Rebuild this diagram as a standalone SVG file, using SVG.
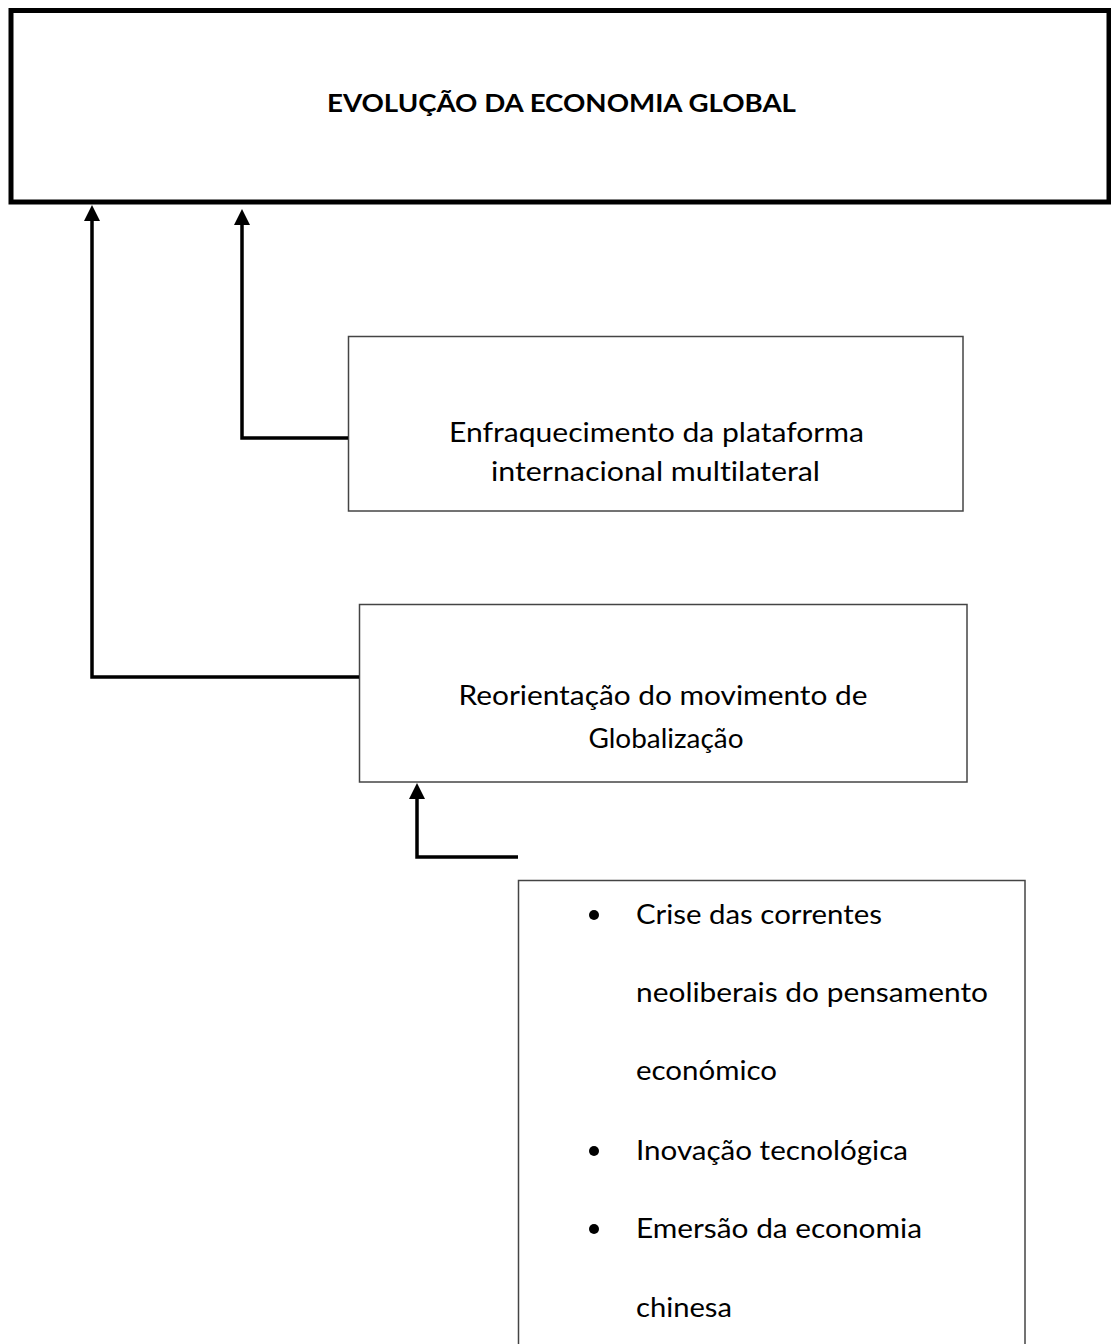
<svg xmlns="http://www.w3.org/2000/svg" width="1111" height="1344" viewBox="0 0 1111 1344">
  <style>
    .box { fill: #ffffff; stroke: #444444; stroke-width: 1.5; }
    .title-box { fill: #ffffff; stroke: #000000; stroke-width: 5; }
    .conn { fill: none; stroke: #000000; stroke-width: 3.5; stroke-linejoin: miter; }
    .t { font-family: Lato, "Open Sans", "Liberation Sans", sans-serif; font-size: 27px; fill: #000000; font-variant-ligatures: none; }
    .tb { font-family: Lato, "Open Sans", "Liberation Sans", sans-serif; font-size: 24.5px; font-weight: bold; fill: #000000; }
  </style>
  <defs>
    <marker id="arrow" markerUnits="userSpaceOnUse" markerWidth="16" markerHeight="16" refX="6" refY="8" orient="auto">
      <path d="M0,0 L16,8 L0,16 z" fill="#000000"/>
    </marker>
  </defs>
  <rect width="1111" height="1344" fill="#ffffff"/>

  <g id="node-title">
    <rect class="title-box" x="11" y="10.5" width="1098" height="191.5"/>
    <text class="tb" x="561.5" y="112" text-anchor="middle" textLength="469" lengthAdjust="spacingAndGlyphs">EVOLUÇÃO DA ECONOMIA GLOBAL</text>
  </g>

  <g id="node-enfraquecimento">
    <rect class="box" x="348.5" y="336.5" width="614.5" height="174.5"/>
    <text class="t" x="656.5" y="442" text-anchor="middle" textLength="415" lengthAdjust="spacingAndGlyphs">Enfraquecimento da plataforma</text>
    <text class="t" x="655.5" y="481" text-anchor="middle" textLength="329" lengthAdjust="spacingAndGlyphs">internacional multilateral</text>
  </g>

  <g id="node-reorientacao">
    <rect class="box" x="359.5" y="604.5" width="607.5" height="177.5"/>
    <text class="t" x="663" y="705" text-anchor="middle" textLength="409" lengthAdjust="spacingAndGlyphs">Reorientação do movimento de</text>
    <text class="t" x="666" y="748" text-anchor="middle" textLength="155" lengthAdjust="spacingAndGlyphs">Globalização</text>
  </g>

  <g id="node-fatores">
    <rect class="box" x="518.5" y="880.5" width="506.5" height="480"/>
    <circle cx="594" cy="915" r="5"/>
    <circle cx="594" cy="1151" r="5"/>
    <circle cx="594" cy="1229" r="5"/>
    <text class="t" x="636" y="924" textLength="246" lengthAdjust="spacingAndGlyphs">Crise das correntes</text>
    <text class="t" x="636" y="1002" textLength="352" lengthAdjust="spacingAndGlyphs">neoliberais do pensamento</text>
    <text class="t" x="636" y="1080" textLength="141" lengthAdjust="spacingAndGlyphs">económico</text>
    <text class="t" x="636" y="1160" textLength="272" lengthAdjust="spacingAndGlyphs">Inovação tecnológica</text>
    <text class="t" x="636" y="1238" textLength="286" lengthAdjust="spacingAndGlyphs">Emersão da economia</text>
    <text class="t" x="636" y="1317" textLength="96" lengthAdjust="spacingAndGlyphs">chinesa</text>
  </g>

  <g id="connectors">
    <path class="conn" d="M359,677 H92 V215" marker-end="url(#arrow)"/>
    <path class="conn" d="M348,438 H242 V219" marker-end="url(#arrow)"/>
    <path class="conn" d="M518,857 H417 V793" marker-end="url(#arrow)"/>
  </g>
</svg>
